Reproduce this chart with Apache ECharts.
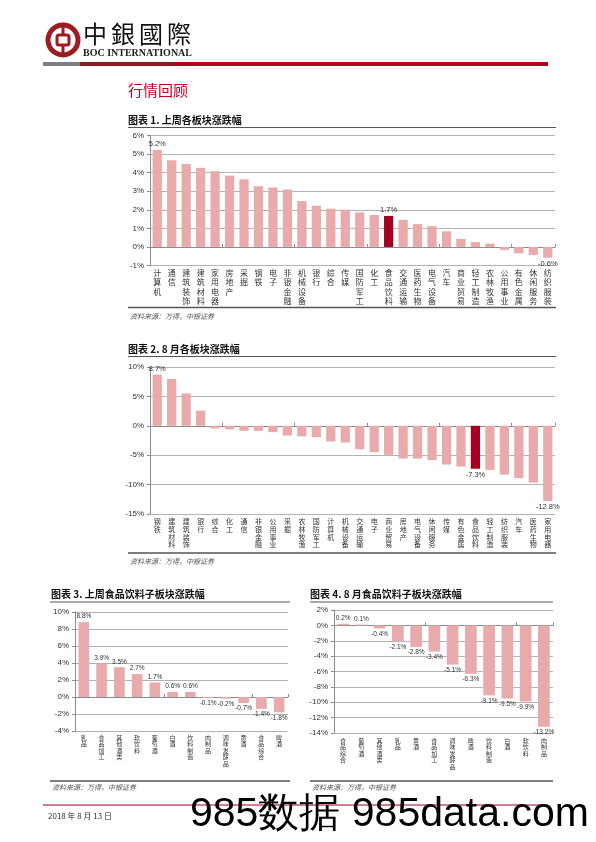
<!DOCTYPE html>
<html><head><meta charset="utf-8">
<script src="https://cdn.jsdelivr.net/npm/echarts@6/dist/echarts.min.js"></script>
<style>html,body{margin:0;padding:0;background:#fff}#c{width:596px;height:842px}</style>
</head><body><div id="c"></div>
<script>
// ---- data ----
const weekSectors = ['计算机','通信','建筑装饰','建筑材料','家用电器','房地产','采掘','钢铁','电子','非银金融','机械设备','银行','综合','传媒','国防军工','化工','食品饮料','交通运输','医药生物','电气设备','汽车','商业贸易','轻工制造','农林牧渔','公用事业','有色金属','休闲服务','纺织服装'];
const weekSectorChg = [5.22,4.67,4.46,4.26,4.08,3.84,3.64,3.27,3.2,3.09,2.47,2.22,2.06,2.01,1.86,1.72,1.67,1.46,1.23,1.12,0.84,0.43,0.26,0.18,-0.16,-0.34,-0.43,-0.58];
const monthSectors = ['钢铁','建筑材料','建筑装饰','银行','综合','化工','通信','非银金融','公用事业','采掘','农林牧渔','国防军工','计算机','机械设备','交通运输','电子','商业贸易','房地产','电气设备','休闲服务','传媒','有色金属','食品饮料','轻工制造','纺织服装','汽车','医药生物','家用电器'];
const monthSectorChg = [8.7,7.95,5.5,2.6,-0.45,-0.6,-0.85,-0.85,-1.08,-1.65,-1.8,-1.93,-2.67,-2.84,-3.98,-4.49,-4.94,-5.57,-5.57,-5.85,-6.59,-6.93,-7.3,-7.5,-8.3,-8.92,-9.66,-12.8];
const weekFood = ['乳品','食品加工','其他酒类','软饮料','葡萄酒','白酒','饮料制造','肉制品','调味发酵品','黄酒','食品综合','啤酒'];
const weekFoodChg = [8.8,3.9,3.5,2.7,1.7,0.6,0.6,-0.1,-0.2,-0.7,-1.4,-1.8];
const monthFood = ['食品综合','葡萄酒','其他酒类','乳品','黄酒','食品加工','调味发酵品','啤酒','饮料制造','白酒','软饮料','肉制品'];
const monthFoodChg = [0.2,0.1,-0.4,-2.1,-2.8,-3.4,-5.1,-6.3,-9.1,-9.5,-9.9,-13.2];
const highlightName = '食品饮料';
const yTicks1 = {min:-1, max:6, interval:1};
const yTicks2 = {min:-15, max:10, interval:5};
const yTicks3 = {min:-4, max:10, interval:2};
const yTicks4 = {min:-14, max:2, interval:2};

// ---- styles ----
const PINK = '#E8AAAA', DARK = '#A50021';
const NUM = 'Liberation Sans, Arial, sans-serif';
const CJK = '"Noto Sans CJK SC", sans-serif';

const chart = echarts.init(document.getElementById('c'), null, {renderer:'canvas'});

const grids = [
  {left:150, top:135.5, width:405, height:130},
  {left:150, top:367, width:405, height:147},
  {left:75, top:612, width:213, height:119},
  {left:334, top:610, width:219, height:123}
];
const catFont = [{fs:8, lh:9.3, m:3},{fs:7, lh:7.6, m:4},{fs:6, lh:6.6, m:3},{fs:6, lh:6.6, m:4}];
const valFont = [7.5, 7.5, 6.5, 6.5];
const cats = [weekSectors, monthSectors, weekFood, monthFood];
const vals = [weekSectorChg, monthSectorChg, weekFoodChg, monthFoodChg];
const ticks = [yTicks1, yTicks2, yTicks3, yTicks4];
const barW = ['64%','64%','60%','64%'];

const xAxes = [], yAxes = [], series = [];
for (let i = 0; i < 4; i++) {
  xAxes.push({
    type:'category', gridIndex:i, data:cats[i], position:'bottom',
    axisLine:{show:false, onZero:false}, axisTick:{show:false},
    axisLabel:{interval:0, margin:catFont[i].m, fontSize:catFont[i].fs, lineHeight:catFont[i].lh,
      fontFamily:CJK, color:'#333', verticalAlign:'top',
      formatter:v => v.split('').join('\n')}
  });
  xAxes.push({
    type:'category', gridIndex:i, data:cats[i], position:'top',
    axisLine:{show:true, onZero:true, lineStyle:{color:'#8c8c8c', width:1}},
    axisTick:{show:true, length:3, inside:false, lineStyle:{color:'#8c8c8c'}},
    axisLabel:{show:false}, splitLine:{show:false}
  });
  yAxes.push({
    type:'value', gridIndex:i, min:ticks[i].min, max:ticks[i].max, interval:ticks[i].interval,
    axisLine:{show:true, lineStyle:{color:'#8c8c8c'}},
    axisTick:{show:true, length:3, lineStyle:{color:'#8c8c8c'}},
    axisLabel:{formatter:'{value}%', fontSize:8, fontFamily:NUM, color:'#333', margin:6},
    splitLine:{show:true, lineStyle:{color:'#b3b3b3', width:1}}
  });
  const showAll = i >= 2;
  const n = vals[i].length;
  const data = vals[i].map((v, k) => {
    const isHL = cats[i][k] === highlightName;
    const show = showAll || k === 0 || k === n - 1 || isHL;
    return {
      value:v,
      itemStyle:{color: isHL ? DARK : PINK},
      label:{show:show, position: v >= 0 ? 'top' : 'bottom'}
    };
  });
  series.push({
    type:'bar', xAxisIndex:i*2, yAxisIndex:i, data:data, barWidth:barW[i],
    label:{distance:2, fontSize:valFont[i], fontFamily:NUM, color:'#333',
      formatter:p => p.value.toFixed(1) + '%'},
    animation:false
  });
}

function line(x1,y1,x2,y2,color,w){return {type:'line', shape:{x1,y1,x2,y2}, style:{stroke:color, lineWidth:w}, silent:true};}
function txt(x,y,t,o){return {type:'text', x, y, style:Object.assign({text:t, fill:'#333', font:'10px '+CJK, textVerticalAlign:'middle'}, o||{}), silent:true};}

const src = '资料来源：万得，中银证券';
const srcFont = 'italic 7px ' + CJK;
const graphic = [
  // logo
  {type:'circle', shape:{cx:63, cy:40, r:15}, style:{fill:'none', stroke:'#9E1B20', lineWidth:5}},
  {type:'rect', shape:{x:57, y:35, width:12, height:10, r:2}, style:{fill:'none', stroke:'#9E1B20', lineWidth:3}},
  {type:'rect', shape:{x:61.5, y:26, width:3, height:9}, style:{fill:'#9E1B20'}},
  {type:'rect', shape:{x:61.5, y:45, width:3, height:9}, style:{fill:'#9E1B20'}},
  txt(83, 34, '中', {font:'24px "Noto Sans CJK TC", serif', fill:'#111'}),
  txt(111, 34, '銀', {font:'24px "Noto Sans CJK TC", serif', fill:'#111'}),
  txt(139, 34, '國', {font:'24px "Noto Sans CJK TC", serif', fill:'#111'}),
  txt(167, 34, '際', {font:'24px "Noto Sans CJK TC", serif', fill:'#111'}),
  txt(83, 53, 'BOC INTERNATIONAL', {font:'bold 10px "Liberation Serif", serif', fill:'#222'}),
  {type:'rect', shape:{x:43, y:62, width:37, height:4}, style:{fill:'#7f7f7f'}},
  {type:'rect', shape:{x:80, y:62, width:95, height:4}, style:{fill:'#8B1C24'}},
  {type:'rect', shape:{x:175, y:62, width:373, height:4}, style:{fill:'#B0001F'}},
  txt(128, 90, '行情回顾', {font:'15px ' + CJK, fill:'#C00020'}),
  // chart 1
  txt(128, 120, '图表 1. 上周各板块涨跌幅', {font:'bold 10px ' + CJK, fill:'#111'}),
  line(128, 127.5, 556, 127.5, '#555', 1),
  line(128, 307.5, 556, 307.5, '#555', 1.5),
  txt(130, 316, src, {font:srcFont, fill:'#555'}),
  // chart 2
  txt(128, 349, '图表 2. 8 月各板块涨跌幅', {font:'bold 10px ' + CJK, fill:'#111'}),
  line(128, 356.5, 556, 356.5, '#555', 1),
  line(128, 553, 556, 553, '#555', 1.5),
  txt(130, 561, src, {font:srcFont, fill:'#555'}),
  // chart 3
  txt(51, 594, '图表 3. 上周食品饮料子板块涨跌幅', {font:'bold 10px ' + CJK, fill:'#111'}),
  line(50, 602, 290, 602, '#555', 1),
  line(50, 781, 290, 781, '#555', 1.5),
  txt(52, 787, src, {font:srcFont, fill:'#555'}),
  // chart 4
  txt(310, 594, '图表 4. 8 月食品饮料子板块涨跌幅', {font:'bold 10px ' + CJK, fill:'#111'}),
  line(310, 602, 553, 602, '#555', 1),
  line(310, 781, 553, 781, '#555', 1.5),
  txt(312, 787, src, {font:srcFont, fill:'#555'}),
  // footer
  line(43, 805, 548, 805, '#A0001E', 1),
  txt(48, 816, '2018 年 8 月 13 日', {font:'8px ' + CJK, fill:'#333'}),
  // watermark
  txt(190, 815, '985数据 985data.com', {font:'41px "Liberation Sans", Arial, sans-serif', fill:'#000'})
];

chart.setOption({
  animation:false,
  grid:grids,
  xAxis:xAxes,
  yAxis:yAxes,
  series:series,
  graphic:graphic
});
</script></body></html>
